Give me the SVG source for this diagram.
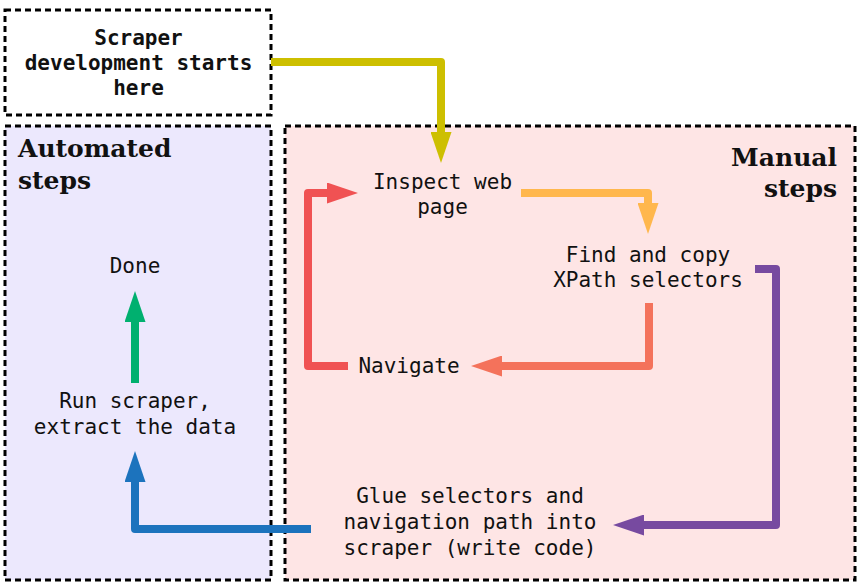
<svg xmlns="http://www.w3.org/2000/svg" width="858" height="584" viewBox="0 0 858 584">
  <style>
    .frame { stroke: #000; stroke-width: 3; stroke-dasharray: 6 4; }
    .label { font-family: "DejaVu Sans Mono", "Liberation Mono", monospace; font-size: 21px; fill: #111; text-anchor: middle; }
    .label.bold { font-weight: bold; }
    .title { font-family: "DejaVu Serif", "Liberation Serif", serif; font-size: 25px; font-weight: bold; fill: #111; }
    .edge { fill: none; stroke-width: 8; stroke-linejoin: round; stroke-linecap: butt; }
  </style>
  <defs>
    <marker id="head-yellow" markerUnits="userSpaceOnUse" viewBox="0 0 31 21" markerWidth="31" markerHeight="21" refX="0" refY="10.5" orient="auto"><path d="M0,0 L31,10.5 L0,21 Z" fill="#CDBF00"/></marker>
    <marker id="head-red" markerUnits="userSpaceOnUse" viewBox="0 0 31 21" markerWidth="31" markerHeight="21" refX="0" refY="10.5" orient="auto"><path d="M0,0 L31,10.5 L0,21 Z" fill="#F05253"/></marker>
    <marker id="head-orange" markerUnits="userSpaceOnUse" viewBox="0 0 31 21" markerWidth="31" markerHeight="21" refX="0" refY="10.5" orient="auto"><path d="M0,0 L31,10.5 L0,21 Z" fill="#FFB74D"/></marker>
    <marker id="head-salmon" markerUnits="userSpaceOnUse" viewBox="0 0 31 21" markerWidth="31" markerHeight="21" refX="0" refY="10.5" orient="auto"><path d="M0,0 L31,10.5 L0,21 Z" fill="#F4725B"/></marker>
    <marker id="head-purple" markerUnits="userSpaceOnUse" viewBox="0 0 31 21" markerWidth="31" markerHeight="21" refX="0" refY="10.5" orient="auto"><path d="M0,0 L31,10.5 L0,21 Z" fill="#774AA0"/></marker>
    <marker id="head-blue" markerUnits="userSpaceOnUse" viewBox="0 0 31 21" markerWidth="31" markerHeight="21" refX="0" refY="10.5" orient="auto"><path d="M0,0 L31,10.5 L0,21 Z" fill="#1C73BD"/></marker>
    <marker id="head-green" markerUnits="userSpaceOnUse" viewBox="0 0 31 21" markerWidth="31" markerHeight="21" refX="0" refY="10.5" orient="auto"><path d="M0,0 L31,10.5 L0,21 Z" fill="#00B06F"/></marker>
  </defs>

  <rect width="858" height="584" fill="#fff"/>

  <!-- swimlanes -->
  <g id="lane-automated">
    <rect class="frame" x="5" y="126" width="266" height="454" fill="#ECE8FD"/>
    <text class="title" x="18" y="157">Automated</text>
    <text class="title" x="18" y="189">steps</text>
  </g>
  <g id="lane-manual">
    <rect class="frame" x="285" y="126" width="570" height="454" fill="#FEE5E5"/>
    <text class="title" x="837" y="166" text-anchor="end">Manual</text>
    <text class="title" x="837" y="197" text-anchor="end">steps</text>
  </g>

  <!-- start box -->
  <g id="node-start">
    <rect class="frame" x="5" y="10" width="266" height="105" fill="#fff"/>
    <text class="label bold" x="138.5" y="45">Scraper</text>
    <text class="label bold" x="138.5" y="70">development starts</text>
    <text class="label bold" x="138.5" y="95">here</text>
  </g>

  <!-- steps -->
  <g id="node-inspect">
    <text class="label" x="442.5" y="189">Inspect web</text>
    <text class="label" x="442.5" y="214">page</text>
  </g>
  <g id="node-find">
    <text class="label" x="648" y="262">Find and copy</text>
    <text class="label" x="648" y="287">XPath selectors</text>
  </g>
  <g id="node-navigate">
    <text class="label" x="409" y="373">Navigate</text>
  </g>
  <g id="node-glue">
    <text class="label" x="470" y="503">Glue selectors and</text>
    <text class="label" x="470" y="529">navigation path into</text>
    <text class="label" x="470" y="555">scraper (write code)</text>
  </g>
  <g id="node-run">
    <text class="label" x="135" y="408">Run scraper,</text>
    <text class="label" x="135" y="434">extract the data</text>
  </g>
  <g id="node-done">
    <text class="label" x="135" y="273">Done</text>
  </g>

  <!-- connectors -->
  <g id="connectors">
    <path class="edge" d="M271,62 H441 V132" stroke="#CDBF00" marker-end="url(#head-yellow)"/>
    <path class="edge" d="M521,193 H648 V203" stroke="#FFB74D" stroke-linecap="round" marker-end="url(#head-orange)"/>
    <path class="edge" d="M649,303 V366 H502" stroke="#F4725B" marker-end="url(#head-salmon)"/>
    <path class="edge" d="M348,366 H308 V193 H327" stroke="#F05253" marker-end="url(#head-red)"/>
    <path class="edge" d="M755,269 H776 V525 H644" stroke="#774AA0" marker-end="url(#head-purple)"/>
    <path class="edge" d="M311,529 H135 V482" stroke="#1C73BD" stroke-linecap="round" marker-end="url(#head-blue)"/>
    <path class="edge" d="M135,383 V322" stroke="#00B06F" marker-end="url(#head-green)"/>
  </g>
</svg>
